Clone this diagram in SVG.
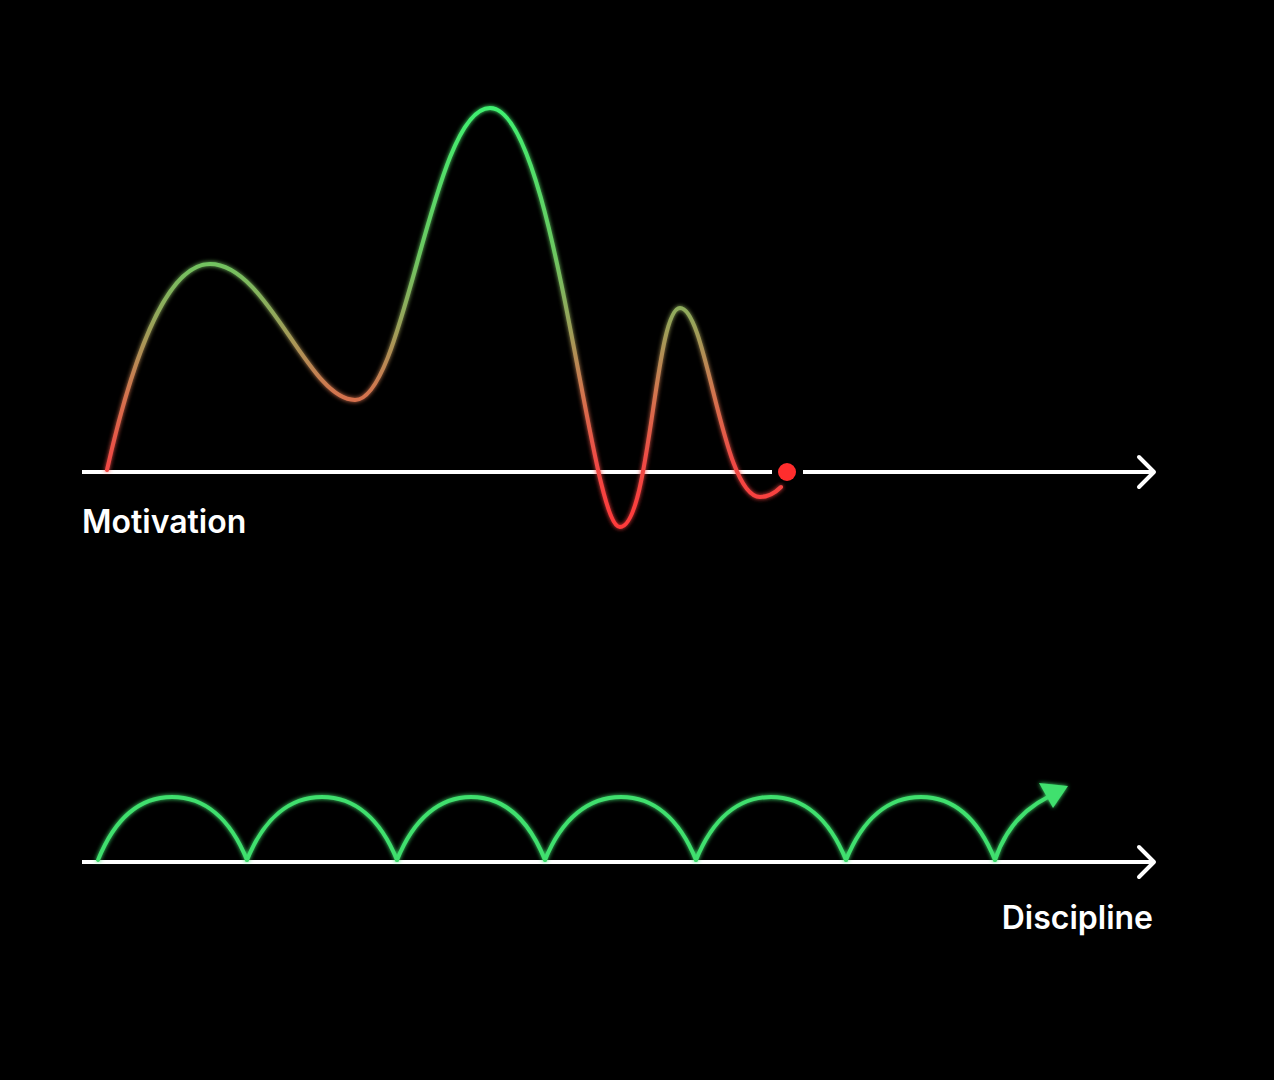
<svg xmlns="http://www.w3.org/2000/svg" width="1274" height="1080" viewBox="0 0 1274 1080">
  <style>
    .axis { stroke: #ffffff; stroke-width: 4; fill: none; stroke-linecap: butt; }
    .chev { stroke: #ffffff; stroke-width: 4; fill: none; stroke-linecap: round; stroke-linejoin: round; }
    .arch { stroke: #3fe06e; stroke-width: 4; fill: none; stroke-linecap: round; }
    .label { font-family: Inter, "Liberation Sans", sans-serif; font-weight: 600; font-size: 32px; fill: #ffffff; }
  </style>
  <defs>
    <linearGradient id="motGrad" gradientUnits="userSpaceOnUse" x1="0" y1="525" x2="0" y2="108">
      <stop offset="0" stop-color="#ff3b3b"/>
      <stop offset="0.15" stop-color="#f04a45"/>
      <stop offset="0.32" stop-color="#d2764f"/>
      <stop offset="0.5" stop-color="#93a85b"/>
      <stop offset="0.65" stop-color="#6cc861"/>
      <stop offset="1" stop-color="#3ff070"/>
    </linearGradient>
    <linearGradient id="archGrad" gradientUnits="userSpaceOnUse" x1="490" y1="0" x2="545" y2="0">
      <stop offset="0" stop-color="#3fe06e"/>
      <stop offset="0.35" stop-color="#8fa85a"/>
      <stop offset="1" stop-color="#ff3b3b"/>
    </linearGradient>
    <filter id="glow" x="-10%" y="-10%" width="120%" height="120%">
      <feGaussianBlur stdDeviation="2" result="b"/>
      <feMerge><feMergeNode in="b"/><feMergeNode in="SourceGraphic"/></feMerge>
    </filter>
  </defs>
  <rect width="1274" height="1080" fill="#000000"/>

  <g id="connectors">
    <line class="axis" x1="82" y1="472" x2="772" y2="472"/>
    <line class="axis" x1="803" y1="472" x2="1153" y2="472"/>
    <polyline class="chev" points="1139,457 1154,472 1139,487"/>
    <line class="axis" x1="82" y1="862" x2="1153" y2="862"/>
    <polyline class="chev" points="1139,847 1154,862 1139,877"/>
  </g>

  <g id="motivation-curve" filter="url(#glow)">
    <path d="M107,470 C125,390 160,264 210,264 C268,264 308,400 355,400 C405,400 432,108 490,108 C555,108 590,527 620,527 C650,527 655,308 680,308 C707,308 722,497 760,497 C770,497 776,492 781,487" fill="none" stroke="url(#motGrad)" stroke-width="4" stroke-linecap="round"/>
  </g>
  <g id="end-dot">
    <circle cx="787" cy="472" r="9" fill="#ff2d2d"/>
  </g>

  <g id="discipline-arches" filter="url(#glow)">
    <path class="arch" d="M98,860 C115,818 140,797 172,797 C204,797 230,818 247,860"/>
    <path class="arch" d="M247,860 C264,818 290,797 322,797 C354,797 380,818 397,860"/>
    <path class="arch" d="M397,860 C414,818 440,797 471,797 C503,797 528,818 545,860" stroke="url(#archGrad)"/>
    <path class="arch" d="M545,860 C562,818 589,797 621,797 C653,797 679,818 696,860"/>
    <path class="arch" d="M696,860 C713,818 739,797 771,797 C803,797 829,818 846,860"/>
    <path class="arch" d="M846,860 C863,818 889,797 921,797 C953,797 978,818 995,860"/>
    <path class="arch" d="M995,860 C1005,830 1022,810 1048,797"/>
    <polygon points="1068,786 1039,783 1053,808" fill="#3fe06e"/>
  </g>

  <g id="label-motivation">
    <text class="label" x="82" y="533">Motivation</text>
  </g>
  <g id="label-discipline">
    <text class="label" x="1153" y="929" text-anchor="end">Discipline</text>
  </g>
</svg>
